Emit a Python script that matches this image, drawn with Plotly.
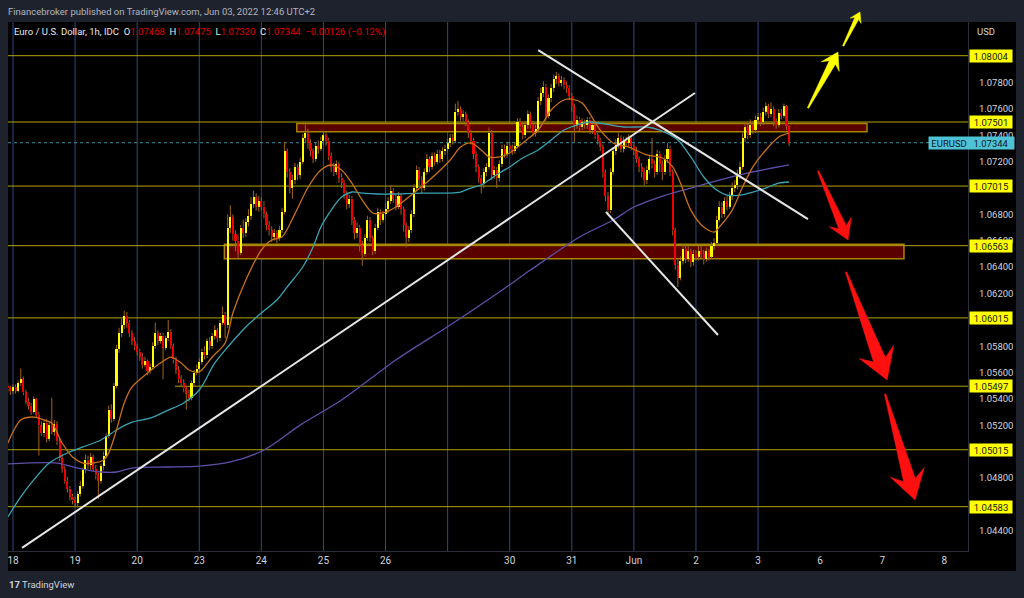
import math
import plotly.graph_objects as go

# ----------------------------------------------------------------------------
# DATA  (EUR/USD, 1h candles, IDC)
# candle index 0 = 18 May 00:00 (UTC+2); 24 candles per trading day
# ----------------------------------------------------------------------------
day_ticks = [0, 24, 48, 72, 96, 120, 144, 168, 192, 216, 240, 264, 288, 312, 336, 360]
day_labels = ["18", "19", "20", "23", "24", "25", "26", "", "30", "31", "Jun", "2", "3", "6", "7", "8"]
session_starts = [0, 24, 48, 72, 96, 120, 144, 168, 192, 216, 240, 264, 288]

first_open = 1.0550
may17_close = [1.0548, 1.0546]
may17_high = [1.0552, 1.0550]
may17_low = [1.0545, 1.0543]

may18_close = [1.0549, 1.0546, 1.0552, 1.0555, 1.0545, 1.0538, 1.0535, 1.0530, 1.0540, 1.0528, 1.0520, 1.0514, 1.0522, 1.0510, 1.0520, 1.0515, 1.0521, 1.0508, 1.0495, 1.0487, 1.0478, 1.0472, 1.0466, 1.0463]
may18_high = [1.0551, 1.0551, 1.0554, 1.0563, 1.0557, 1.0547, 1.0541, 1.0537, 1.0542, 1.0541, 1.0530, 1.0523, 1.0524, 1.0525, 1.0523, 1.0541, 1.0524, 1.0523, 1.0510, 1.0498, 1.0489, 1.0481, 1.0474, 1.0468]
may18_low = [1.0544, 1.0544, 1.0545, 1.0550, 1.0543, 1.0536, 1.0532, 1.0528, 1.0529, 1.0526, 1.0497, 1.0512, 1.0511, 1.0507, 1.0508, 1.0513, 1.0512, 1.0505, 1.0493, 1.0484, 1.0476, 1.0469, 1.0463, 1.0460]

may19_close = [1.0461, 1.0468, 1.0474, 1.0486, 1.0494, 1.0490, 1.0496, 1.0487, 1.0482, 1.0478, 1.0489, 1.0497, 1.0512, 1.0532, 1.0525, 1.0550, 1.0578, 1.0590, 1.0596, 1.0603, 1.0598, 1.0590, 1.0584, 1.0580]
may19_high = [1.0466, 1.0470, 1.0478, 1.0488, 1.0498, 1.0497, 1.0499, 1.0498, 1.0490, 1.0484, 1.0491, 1.0500, 1.0514, 1.0535, 1.0536, 1.0552, 1.0581, 1.0594, 1.0601, 1.0607, 1.0606, 1.0600, 1.0592, 1.0587]
may19_low = [1.0458, 1.0459, 1.0466, 1.0472, 1.0484, 1.0487, 1.0486, 1.0485, 1.0479, 1.0464, 1.0476, 1.0486, 1.0495, 1.0510, 1.0522, 1.0523, 1.0548, 1.0575, 1.0587, 1.0593, 1.0594, 1.0587, 1.0581, 1.0577]

may20_close = [1.0576, 1.0572, 1.0566, 1.0569, 1.0561, 1.0564, 1.0580, 1.0590, 1.0584, 1.0588, 1.0579, 1.0586, 1.0591, 1.0580, 1.0570, 1.0562, 1.0555, 1.0552, 1.0548, 1.0544, 1.0541, 1.0552, 1.0560, 1.0563]
may20_high = [1.0582, 1.0578, 1.0575, 1.0572, 1.0570, 1.0567, 1.0583, 1.0598, 1.0592, 1.0590, 1.0590, 1.0588, 1.0600, 1.0593, 1.0582, 1.0572, 1.0565, 1.0558, 1.0555, 1.0550, 1.0547, 1.0554, 1.0562, 1.0566]
may20_low = [1.0573, 1.0569, 1.0563, 1.0564, 1.0558, 1.0559, 1.0562, 1.0578, 1.0581, 1.0582, 1.0555, 1.0577, 1.0584, 1.0578, 1.0567, 1.0559, 1.0552, 1.0549, 1.0545, 1.0532, 1.0538, 1.0539, 1.0550, 1.0558]

may23_close = [1.0568, 1.0576, 1.0573, 1.0584, 1.0580, 1.0588, 1.0592, 1.0586, 1.0598, 1.0604, 1.0596, 1.0670, 1.0678, 1.0665, 1.0660, 1.0651, 1.0670, 1.0666, 1.0674, 1.0679, 1.0688, 1.0693, 1.0686, 1.0690]
may23_high = [1.0571, 1.0578, 1.0580, 1.0586, 1.0587, 1.0590, 1.0596, 1.0594, 1.0600, 1.0610, 1.0606, 1.0680, 1.0687, 1.0680, 1.0668, 1.0664, 1.0672, 1.0676, 1.0677, 1.0684, 1.0693, 1.0698, 1.0696, 1.0694]
may23_low = [1.0560, 1.0566, 1.0570, 1.0571, 1.0577, 1.0578, 1.0585, 1.0583, 1.0584, 1.0596, 1.0586, 1.0594, 1.0666, 1.0660, 1.0652, 1.0647, 1.0649, 1.0662, 1.0663, 1.0671, 1.0676, 1.0685, 1.0683, 1.0682]

may24_close = [1.0686, 1.0680, 1.0672, 1.0668, 1.0663, 1.0666, 1.0662, 1.0668, 1.0682, 1.0728, 1.0712, 1.0700, 1.0706, 1.0716, 1.0710, 1.0720, 1.0738, 1.0742, 1.0734, 1.0728, 1.0722, 1.0732, 1.0730, 1.0736]
may24_high = [1.0693, 1.0690, 1.0682, 1.0675, 1.0671, 1.0669, 1.0668, 1.0671, 1.0685, 1.0735, 1.0730, 1.0715, 1.0710, 1.0719, 1.0718, 1.0723, 1.0741, 1.0748, 1.0745, 1.0737, 1.0730, 1.0735, 1.0736, 1.0739]
may24_low = [1.0683, 1.0677, 1.0668, 1.0664, 1.0659, 1.0660, 1.0658, 1.0660, 1.0666, 1.0680, 1.0708, 1.0696, 1.0692, 1.0703, 1.0706, 1.0707, 1.0718, 1.0734, 1.0730, 1.0724, 1.0719, 1.0720, 1.0726, 1.0728]

may25_close = [1.0740, 1.0736, 1.0724, 1.0716, 1.0712, 1.0718, 1.0708, 1.0704, 1.0696, 1.0688, 1.0692, 1.0676, 1.0666, 1.0670, 1.0657, 1.0650, 1.0662, 1.0676, 1.0662, 1.0652, 1.0670, 1.0682, 1.0676, 1.0680]
may25_high = [1.0743, 1.0742, 1.0738, 1.0727, 1.0719, 1.0721, 1.0720, 1.0711, 1.0706, 1.0698, 1.0695, 1.0694, 1.0678, 1.0674, 1.0672, 1.0660, 1.0665, 1.0679, 1.0678, 1.0664, 1.0673, 1.0685, 1.0684, 1.0683]
may25_low = [1.0733, 1.0732, 1.0721, 1.0712, 1.0709, 1.0710, 1.0704, 1.0700, 1.0692, 1.0684, 1.0685, 1.0672, 1.0661, 1.0662, 1.0652, 1.0641, 1.0648, 1.0660, 1.0659, 1.0649, 1.0650, 1.0668, 1.0672, 1.0674]

may26_close = [1.0684, 1.0690, 1.0698, 1.0692, 1.0686, 1.0694, 1.0684, 1.0672, 1.0662, 1.0668, 1.0680, 1.0700, 1.0714, 1.0706, 1.0700, 1.0712, 1.0722, 1.0716, 1.0724, 1.0720, 1.0726, 1.0722, 1.0728, 1.0730]
may26_high = [1.0688, 1.0693, 1.0702, 1.0700, 1.0695, 1.0697, 1.0696, 1.0686, 1.0674, 1.0671, 1.0683, 1.0703, 1.0717, 1.0716, 1.0709, 1.0715, 1.0726, 1.0724, 1.0727, 1.0727, 1.0729, 1.0729, 1.0731, 1.0733]
may26_low = [1.0677, 1.0681, 1.0688, 1.0689, 1.0683, 1.0684, 1.0680, 1.0667, 1.0655, 1.0659, 1.0666, 1.0678, 1.0698, 1.0702, 1.0696, 1.0698, 1.0710, 1.0712, 1.0714, 1.0717, 1.0718, 1.0719, 1.0720, 1.0725]

may27_close = [1.0734, 1.0738, 1.0736, 1.0758, 1.0760, 1.0754, 1.0756, 1.0750, 1.0742, 1.0736, 1.0726, 1.0716, 1.0708, 1.0703, 1.0712, 1.0716, 1.0742, 1.0710, 1.0714, 1.0708, 1.0718, 1.0730, 1.0726, 1.0732]
may27_high = [1.0737, 1.0741, 1.0741, 1.0764, 1.0766, 1.0762, 1.0759, 1.0758, 1.0752, 1.0744, 1.0738, 1.0728, 1.0718, 1.0710, 1.0715, 1.0719, 1.0746, 1.0744, 1.0717, 1.0716, 1.0721, 1.0733, 1.0733, 1.0735]
may27_low = [1.0727, 1.0731, 1.0733, 1.0734, 1.0755, 1.0751, 1.0751, 1.0747, 1.0738, 1.0733, 1.0722, 1.0712, 1.0704, 1.0696, 1.0700, 1.0709, 1.0714, 1.0706, 1.0707, 1.0700, 1.0705, 1.0716, 1.0723, 1.0723]

may30_close = [1.0730, 1.0728, 1.0732, 1.0750, 1.0746, 1.0740, 1.0748, 1.0756, 1.0748, 1.0742, 1.0745, 1.0766, 1.0772, 1.0777, 1.0755, 1.0768, 1.0776, 1.0783, 1.0785, 1.0780, 1.0782, 1.0778, 1.0776, 1.0770]
may30_high = [1.0735, 1.0733, 1.0735, 1.0753, 1.0753, 1.0749, 1.0751, 1.0759, 1.0758, 1.0751, 1.0748, 1.0769, 1.0776, 1.0781, 1.0779, 1.0771, 1.0779, 1.0786, 1.0788, 1.0787, 1.0785, 1.0784, 1.0781, 1.0778]
may30_low = [1.0727, 1.0725, 1.0726, 1.0730, 1.0743, 1.0737, 1.0738, 1.0745, 1.0745, 1.0739, 1.0739, 1.0743, 1.0763, 1.0769, 1.0751, 1.0753, 1.0765, 1.0773, 1.0779, 1.0777, 1.0777, 1.0775, 1.0772, 1.0767]

may31_close = [1.0762, 1.0748, 1.0752, 1.0746, 1.0750, 1.0748, 1.0752, 1.0744, 1.0748, 1.0740, 1.0736, 1.0731, 1.0712, 1.0694, 1.0683, 1.0712, 1.0728, 1.0733, 1.0738, 1.0730, 1.0736, 1.0734, 1.0738, 1.0732]
may31_high = [1.0772, 1.0764, 1.0755, 1.0754, 1.0753, 1.0752, 1.0754, 1.0754, 1.0751, 1.0750, 1.0742, 1.0738, 1.0733, 1.0714, 1.0697, 1.0715, 1.0731, 1.0737, 1.0742, 1.0740, 1.0739, 1.0739, 1.0741, 1.0740]
may31_low = [1.0758, 1.0735, 1.0745, 1.0743, 1.0744, 1.0745, 1.0745, 1.0741, 1.0741, 1.0737, 1.0733, 1.0728, 1.0708, 1.0690, 1.0680, 1.0681, 1.0710, 1.0725, 1.0730, 1.0727, 1.0727, 1.0731, 1.0731, 1.0729]

jun1_close = [1.0728, 1.0722, 1.0716, 1.0712, 1.0706, 1.0714, 1.0722, 1.0718, 1.0712, 1.0726, 1.0718, 1.0712, 1.0722, 1.0730, 1.0712, 1.0668, 1.0642, 1.0632, 1.0645, 1.0654, 1.0646, 1.0652, 1.0644, 1.0650]
jun1_high = [1.0734, 1.0731, 1.0724, 1.0719, 1.0715, 1.0717, 1.0725, 1.0738, 1.0721, 1.0729, 1.0728, 1.0721, 1.0725, 1.0734, 1.0732, 1.0714, 1.0670, 1.0646, 1.0648, 1.0657, 1.0657, 1.0656, 1.0654, 1.0653]
jun1_low = [1.0725, 1.0719, 1.0712, 1.0708, 1.0702, 1.0703, 1.0711, 1.0715, 1.0708, 1.0710, 1.0712, 1.0706, 1.0710, 1.0719, 1.0709, 1.0664, 1.0638, 1.0625, 1.0630, 1.0642, 1.0643, 1.0644, 1.0640, 1.0641]

jun2_close = [1.0648, 1.0652, 1.0650, 1.0646, 1.0652, 1.0648, 1.0656, 1.0658, 1.0676, 1.0686, 1.0680, 1.0690, 1.0686, 1.0694, 1.0700, 1.0702, 1.0710, 1.0716, 1.0738, 1.0746, 1.0740, 1.0748, 1.0744, 1.0752]
jun2_high = [1.0653, 1.0656, 1.0656, 1.0653, 1.0655, 1.0654, 1.0659, 1.0662, 1.0679, 1.0690, 1.0689, 1.0693, 1.0694, 1.0697, 1.0704, 1.0706, 1.0714, 1.0720, 1.0742, 1.0750, 1.0749, 1.0752, 1.0751, 1.0755]
jun2_low = [1.0645, 1.0645, 1.0647, 1.0642, 1.0644, 1.0645, 1.0646, 1.0653, 1.0656, 1.0674, 1.0677, 1.0678, 1.0683, 1.0684, 1.0691, 1.0697, 1.0699, 1.0707, 1.0714, 1.0735, 1.0737, 1.0738, 1.0741, 1.0742]

jun3_close = [1.0754, 1.0750, 1.0758, 1.0762, 1.0756, 1.0760, 1.0750, 1.0748, 1.0757, 1.0755, 1.0762, 1.0747, 1.07344]
jun3_high = [1.0757, 1.0757, 1.0761, 1.0765, 1.0764, 1.0765, 1.0762, 1.0753, 1.0760, 1.0760, 1.0764, 1.0763, 1.07475]
jun3_low = [1.0749, 1.0747, 1.0748, 1.0755, 1.0753, 1.0754, 1.0747, 1.0745, 1.0746, 1.0752, 1.0753, 1.0744, 1.07320]

# moving averages: candle index / price
ma_orange_x = [-2, 3, 8, 12, 15, 19, 23, 27, 31, 35, 37, 40, 43, 46, 52, 57, 61, 65, 68, 72, 77, 82, 85, 90, 96, 100, 104, 109, 114, 119, 123, 127, 131, 135, 139, 143, 148, 153, 161, 169, 173, 177, 181, 184, 188, 192, 197, 203, 208, 213, 216, 220, 227, 232, 238, 245, 251, 255, 258, 262, 267, 271, 273, 278, 282, 286, 291, 296, 300]
ma_orange_y = [1.05066, 1.05241, 1.05263, 1.05241, 1.05218, 1.05066, 1.0496, 1.04914, 1.04914, 1.04937, 1.0499, 1.05165, 1.0537, 1.05491, 1.05597, 1.05673, 1.05718, 1.05673, 1.0562, 1.05605, 1.05718, 1.05825, 1.06052, 1.06302, 1.0653, 1.06606, 1.06629, 1.06806, 1.07004, 1.07137, 1.07175, 1.07137, 1.07038, 1.06909, 1.06811, 1.06811, 1.06856, 1.06932, 1.07061, 1.07213, 1.07311, 1.07342, 1.07289, 1.07236, 1.07236, 1.07266, 1.07342, 1.0744, 1.07592, 1.07668, 1.07675, 1.07645, 1.0744, 1.07342, 1.07311, 1.07251, 1.07228, 1.0716, 1.07038, 1.06833, 1.06704, 1.06666, 1.06704, 1.06833, 1.07008, 1.0716, 1.07289, 1.07387, 1.07418]
ma_teal_x = [-2, 3, 8, 14, 21, 27, 34, 40, 46, 53, 60, 66, 72, 78, 83, 90, 96, 102, 106, 112, 116, 119, 123, 127, 131, 135, 141, 147, 158, 169, 173, 177, 181, 184, 188, 192, 197, 203, 208, 213, 218, 223, 236, 245, 250, 257, 262, 267, 272, 276, 281, 286, 291, 296, 300]
ma_teal_y = [1.04505, 1.04657, 1.04786, 1.04914, 1.0499, 1.05036, 1.05089, 1.05165, 1.05224, 1.05254, 1.05315, 1.0537, 1.05468, 1.05673, 1.05794, 1.05946, 1.06052, 1.06151, 1.0625, 1.06401, 1.06553, 1.06705, 1.06833, 1.06932, 1.0697, 1.06962, 1.06955, 1.06955, 1.06962, 1.06962, 1.0697, 1.07, 1.07023, 1.07061, 1.07114, 1.0716, 1.07228, 1.07289, 1.07365, 1.0744, 1.07478, 1.07501, 1.07463, 1.07463, 1.0744, 1.07365, 1.07236, 1.07084, 1.06985, 1.06947, 1.06947, 1.0697, 1.07, 1.07038, 1.07046]
ma_purple_x = [-2, 17, 25, 34, 40, 46, 60, 72, 84, 97, 111, 127, 148, 169, 188, 200, 219, 232, 240, 250, 262, 273, 286, 300]
ma_purple_y = [1.04907, 1.04914, 1.04876, 1.04846, 1.04846, 1.04876, 1.04884, 1.04891, 1.04922, 1.05013, 1.05202, 1.05392, 1.05696, 1.05961, 1.06211, 1.06378, 1.06629, 1.06758, 1.06856, 1.06932, 1.07, 1.07061, 1.07122, 1.07175]

# horizontal levels drawn on the chart (price, first candle index)
level_prices = [1.08004, 1.07501, 1.07015, 1.06563, 1.06015, 1.05497, 1.05015, 1.04583]
level_from = [-2, -2, -2, -2, -2, 62.6, -2, -2]

# supply / demand zones
zone_x0 = [109.7, 81.7]
zone_x1 = [330.1, 344.4]
zone_top = [1.07490, 1.06573]
zone_bottom = [1.07428, 1.06464]

# white trend lines
trend_x0 = [3.5, 203.0, 229.2]
trend_y0 = [1.0427, 1.08047, 1.06818]
trend_x1 = [263.6, 307.3, 272.5]
trend_y1 = [1.07721, 1.06765, 1.05885]

# arrows (tail index, tail price, tip index, tip price)
arrow_tail_x = [307.3, 320.9, 311.2, 322.0, 337.1]
arrow_tail_y = [1.07607, 1.08078, 1.07129, 1.06363, 1.05438]
arrow_tip_x = [318.9, 327.4, 322.8, 337.9, 348.7]
arrow_tip_y = [1.08032, 1.08336, 1.06606, 1.05544, 1.04634]
arrow_colors = ["#ffff00", "#ffff00", "#ff1010", "#ff1010", "#ff1010"]

last_price = 1.07344
# price-scale labels that are not hidden behind the level / price boxes
price_ticks = [1.044, 1.048, 1.052, 1.054, 1.056, 1.058, 1.062, 1.064, 1.066,
               1.068, 1.072, 1.074, 1.076, 1.078]

# ----------------------------------------------------------------------------
# STYLE / GEOMETRY
# ----------------------------------------------------------------------------
W_PX, H_PX = 1024, 598
ML, MR, MT, MB = 8, 56, 22, 47
PW, PH = W_PX - ML - MR, H_PX - MT - MB
X0, X1 = -1.933, 369.15
Y0, Y1 = 1.042468, 1.082596

FRAME = "#1e222d"
TXT = "#d1d4dc"
FONT = "Roboto, sans-serif"
UP, DOWN, WICK = "#ffff00", "#f00000", "#a0641a"

# ----------------------------------------------------------------------------
closes = may17_close + may18_close + may19_close + may20_close + may23_close + may24_close + \
    may25_close + may26_close + may27_close + may30_close + may31_close + jun1_close + jun2_close + jun3_close
highs = may17_high + may18_high + may19_high + may20_high + may23_high + may24_high + \
    may25_high + may26_high + may27_high + may30_high + may31_high + jun1_high + jun2_high + jun3_high
lows = may17_low + may18_low + may19_low + may20_low + may23_low + may24_low + \
    may25_low + may26_low + may27_low + may30_low + may31_low + jun1_low + jun2_low + jun3_low
opens = [first_open] + closes[:-1]
x_idx = list(range(-2, -2 + len(closes)))

fig = go.Figure()

wick_x, wick_y = [], []
for xi, o, h, l, c in zip(x_idx, opens, highs, lows, closes):
    top, bot = max(o, c), min(o, c)
    wick_x += [xi, xi, None, xi, xi, None]
    wick_y += [h, top, None, bot, l, None]
fig.add_trace(go.Scatter(x=wick_x, y=wick_y, mode="lines", line=dict(color=WICK, width=1),
                         hoverinfo="skip"))

body_base = [min(o, c) for o, c in zip(opens, closes)]
body_len = [max(abs(c - o), 0.00004) for o, c in zip(opens, closes)]
body_col = [UP if c >= o else DOWN for o, c in zip(opens, closes)]
fig.add_trace(go.Bar(x=x_idx, y=body_len, base=body_base, width=0.8,
                     marker=dict(color=body_col, line=dict(width=0)), hoverinfo="skip"))

for xs, ys, col in [(ma_purple_x, ma_purple_y, "#5e4fa8"),
                    (ma_teal_x, ma_teal_y, "#3aa3b3"),
                    (ma_orange_x, ma_orange_y, "#c8701a")]:
    fig.add_trace(go.Scatter(x=xs, y=ys, mode="lines",
                             line=dict(color=col, width=1.3, shape="spline", smoothing=0.8),
                             hoverinfo="skip"))


def to_px(i, p):
    return ML + (i - X0) / (X1 - X0) * PW, MT + (Y1 - p) / (Y1 - Y0) * PH


def px_to_paper(x, y):
    return (x - ML) / PW, (MT + PH - y) / PH


shapes = []
# black chart canvas including axis strips
shapes.append(dict(type="rect", xref="paper", yref="paper", x0=0, x1=(1016 - ML) / PW,
                   y0=-(571 - MT - PH) / PH, y1=1, fillcolor="#000000", line=dict(width=0), layer="below"))
for s in session_starts:
    shapes.append(dict(type="line", xref="x", yref="paper", x0=s, x1=s, y0=0, y1=1,
                       line=dict(color="#2d4a80", width=1), layer="below"))
for a, b, t, bt in zip(zone_x0, zone_x1, zone_top, zone_bottom):
    shapes.append(dict(type="rect", xref="x", yref="y", x0=a, x1=b, y0=bt, y1=t,
                       fillcolor="#5a0000", line=dict(color="#a88400", width=1.5), layer="below"))
for p, start in zip(level_prices, level_from):
    shapes.append(dict(type="line", xref="x", yref="y", x0=max(start, X0), x1=X1, y0=p, y1=p,
                       line=dict(color="#b3a300", width=1), layer="below"))
shapes.append(dict(type="line", xref="paper", yref="y", x0=0, x1=1, y0=last_price, y1=last_price,
                   line=dict(color="#3b8ea0", width=1, dash="dot"), layer="below"))
for a, b, c, d in zip(trend_x0, trend_y0, trend_x1, trend_y1):
    shapes.append(dict(type="line", xref="x", yref="y", x0=a, y0=b, x1=c, y1=d,
                       line=dict(color="#e6e6e6", width=2), layer="above"))


def arrow_path(tx, ty, hx, hy):
    x0, y0 = to_px(tx, ty)
    x1, y1 = to_px(hx, hy)
    L = math.hypot(x1 - x0, y1 - y0)
    ux, uy = (x1 - x0) / L, (y1 - y0) / L
    nx, ny = -uy, ux
    head_len = 0.26 * L
    head_hw = 0.16 * L
    shaft_hw = 0.055 * L
    bx, by = x1 - ux * head_len, y1 - uy * head_len
    ix, iy = x1 - ux * head_len * 0.72, y1 - uy * head_len * 0.72
    pts = [(x0 + nx * 0.7, y0 + ny * 0.7), (ix + nx * shaft_hw, iy + ny * shaft_hw),
           (bx + nx * head_hw, by + ny * head_hw), (x1, y1),
           (bx - nx * head_hw, by - ny * head_hw), (ix - nx * shaft_hw, iy - ny * shaft_hw),
           (x0 - nx * 0.7, y0 - ny * 0.7)]
    pp = [px_to_paper(x, y) for x, y in pts]
    return "M " + " L ".join(f"{x:.5f},{y:.5f}" for x, y in pp) + " Z"


for tx, ty, hx, hy, col in zip(arrow_tail_x, arrow_tail_y, arrow_tip_x, arrow_tip_y, arrow_colors):
    shapes.append(dict(type="path", xref="paper", yref="paper", path=arrow_path(tx, ty, hx, hy),
                       fillcolor=col, line=dict(color=col, width=0.5), layer="above"))

ann = []
for p in level_prices:
    ann.append(dict(x=1, xref="paper", y=p, yref="y", xanchor="left", yanchor="middle", xshift=1,
                    text=f"{p:.5f}", showarrow=False, bgcolor="#ffff00", width=42, height=12,
                    borderpad=0, font=dict(family=FONT, size=9.5, color="#131722")))
ann.append(dict(x=1, xref="paper", y=last_price, yref="y", xanchor="left", yanchor="middle",
                xshift=-40, text="&nbsp;EURUSD", align="left", showarrow=False, bgcolor="#4fc3d6",
                width=85, height=12, borderpad=0, font=dict(family=FONT, size=9.5, color="#131722")))
ann.append(dict(x=1, xref="paper", y=last_price, yref="y", xanchor="left", yanchor="middle",
                xshift=1, text=f"{last_price:.5f}", showarrow=False, width=42, height=12,
                borderpad=0, font=dict(family=FONT, size=9.5, color="#131722")))
ux_, uy_ = px_to_paper(975, 31)
ann.append(dict(x=ux_, y=uy_, xref="paper", yref="paper", xanchor="left", yanchor="middle",
                text="USD", showarrow=False, font=dict(family=FONT, size=9.5, color=TXT)))
hx_, hy_ = px_to_paper(12, 32)
red = "#e00000"
header = ("Euro / U.S. Dollar, 1h, IDC&nbsp;&nbsp;"
          f"O<span style='color:{red}'>1.07468</span>&nbsp;&nbsp;"
          f"H<span style='color:{red}'>1.07475</span>&nbsp;&nbsp;"
          f"L<span style='color:{red}'>1.07320</span>&nbsp;&nbsp;"
          f"C<span style='color:{red}'>1.07344&nbsp;&nbsp;\u22120.00126 (\u22120.12%)</span>")
ann.append(dict(x=hx_, y=hy_, xref="paper", yref="paper", xanchor="left", yanchor="middle",
                text=header, showarrow=False, font=dict(family=FONT, size=9.5, color="#e8e8e8")))
tx_, ty_ = px_to_paper(6, 11)
ann.append(dict(x=tx_, y=ty_, xref="paper", yref="paper", xanchor="left", yanchor="middle",
                text="Financebroker published on TradingView.com, Jun 03, 2022 12:46 UTC+2",
                showarrow=False, font=dict(family=FONT, size=9.5, color="#b2b5be")))
lx_, ly_ = px_to_paper(7, 584)
ann.append(dict(x=lx_, y=ly_, xref="paper", yref="paper", xanchor="left", yanchor="middle",
                text="<b>17</b> TradingView", showarrow=False,
                font=dict(family=FONT, size=9.5, color=TXT)))

fig.update_layout(
    width=W_PX, height=H_PX,
    margin=dict(l=ML, r=MR, t=MT, b=MB),
    paper_bgcolor=FRAME, plot_bgcolor="#000000",
    showlegend=False, bargap=0, hovermode=False,
    xaxis=dict(range=[X0, X1], tickvals=day_ticks, ticktext=day_labels, showgrid=False,
               zeroline=False, ticks="", showline=True, linecolor="#2a2e39",
               tickfont=dict(family=FONT, size=10, color=TXT), fixedrange=True),
    yaxis=dict(side="right", range=[Y0, Y1], tickvals=price_ticks,
               ticktext=[f"{v:.5f}" for v in price_ticks], showgrid=False, zeroline=False,
               ticks="", showline=True, linecolor="#2a2e39", ticklabelstandoff=8,
               tickfont=dict(family=FONT, size=9.5, color=TXT), fixedrange=True),
    shapes=shapes, annotations=ann,
)

fig.write_html("out.html")
